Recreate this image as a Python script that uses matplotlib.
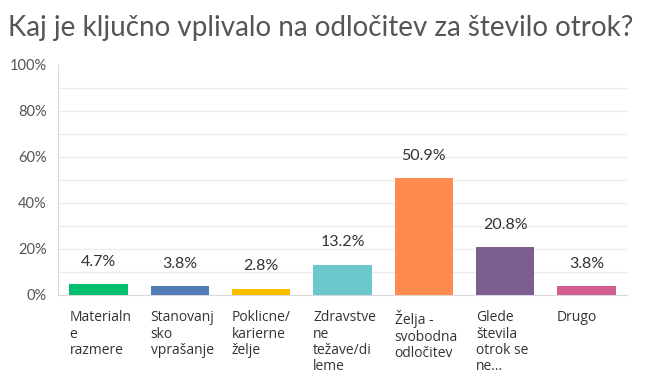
import matplotlib.pyplot as plt
import matplotlib.transforms as mtransforms

# podatki
categories = ['Materialn\ne\nrazmere', 'Stanovanj\nsko\nvprašanje', 'Poklicne/\nkarierne\nželje',
              'Zdravstve\nne\ntežave/di\nleme', 'Želja -\nsvobodna\nodločitev',
              'Glede\nštevila\notrok se\nne...', 'Drugo']
values = [4.7, 3.8, 2.8, 13.2, 50.9, 20.8, 3.8]
colors = ['#00BF6F', '#507CB6', '#F9BE00', '#6BC8CD', '#FF8B4F', '#7D5E90', '#D25F90']
yticks = [0, 20, 40, 60, 80, 100]

plt.rcParams['font.family'] = ['Lato', 'DejaVu Sans']

fig = plt.figure(figsize=(6.5, 3.86), dpi=100)
ax = fig.add_axes([58 / 650, 1 - 295 / 386, 569 / 650, 230 / 386])

x = range(len(values))
ax.bar(x, values, width=0.72, color=colors, zorder=3)
ax.set_xlim(-0.5, len(values) - 0.5)
ax.set_ylim(0, 100)

# mreža
for g in range(10, 100, 10):
    ax.axhline(g, color='#ebebeb', lw=0.9, zorder=1)

ax.set_yticks(yticks)
ax.set_yticklabels([f'{t}%' for t in yticks], fontsize=10.5, color='#555555')
offset = mtransforms.ScaledTranslation(0, -6 / 100, fig.dpi_scale_trans)
for lab in ax.get_yticklabels():
    lab.set_transform(lab.get_transform() + offset)
ax.tick_params(axis='y', length=0, pad=8)
ax.set_xticks([])

for s in ['top', 'right']:
    ax.spines[s].set_visible(False)
ax.spines['left'].set_color('#d9d9d9')
ax.spines['bottom'].set_color('#d9d9d9')

# vrednosti nad stolpci
for i, v in enumerate(values):
    ax.annotate(f'{v}%', (i, v), xytext=(0, 16), textcoords='offset points',
                ha='center', va='center', fontsize=11.5, color='#333333')

# oznake kategorij
for i, c in enumerate(categories):
    ax.annotate(c, (i - 0.36, 0), xytext=(0, -11), textcoords='offset points',
                ha='left', va='top', fontsize=10, color='#333333', linespacing=1.12,
                family=['Open Sans', 'DejaVu Sans'], annotation_clip=False)

fig.text(8 / 650, 1 - 28 / 386, 'Kaj je ključno vplivalo na odločitev za število otrok?',
         fontsize=20, color='#555555', va='center', ha='left')

fig.savefig('out.png', dpi=100)
